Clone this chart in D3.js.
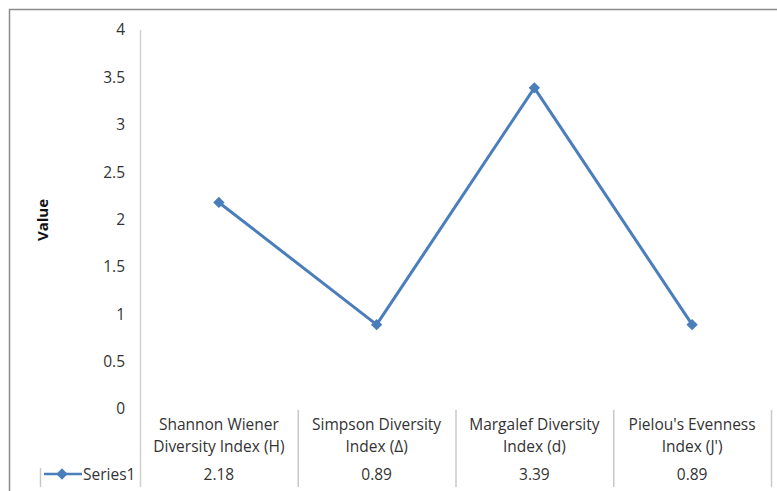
<!DOCTYPE html>
<html><head><meta charset="utf-8">
<script src="https://cdn.jsdelivr.net/npm/d3@7"></script>
<style>body{margin:0;background:#fff}svg{display:block}text{font-family:"Open Sans","Liberation Sans",sans-serif;fill:#333}</style>
</head><body>
<script>
const categories = [["Shannon Wiener","Diversity Index (H)"],["Simpson Diversity","Index (Δ)"],["Margalef Diversity","Index (d)"],["Pielou's Evenness","Index (J')"]];
const seriesName = "Series1";
const values = [2.18, 0.89, 3.39, 0.89];
const valueLabels = ["2.18","0.89","3.39","0.89"];
const yTicks = [0,0.5,1,1.5,2,2.5,3,3.5,4];

const W=777,H=491;
const svg=d3.select("body").append("svg").attr("width",W).attr("height",H);
// outer frame
svg.append("path").attr("d",`M9.5,${H}V9.5H${W}`).attr("fill","none").attr("stroke","#8c8c8c").attr("stroke-width",1.5);

const x=d3.scaleBand().domain(d3.range(categories.length)).range([140,771]);
const y=d3.scaleLinear().domain([0,4]).range([409,30]);
const fs=15.5;

// y axis line
svg.append("line").attr("x1",140.5).attr("x2",140.5).attr("y1",30).attr("y2",487).attr("stroke","#d0d0d0").attr("stroke-width",1.5);
// y tick labels
svg.append("g").selectAll("text").data(yTicks).join("text")
 .attr("x",125).attr("y",d=>y(d)).attr("dy","0.35em").attr("text-anchor","end")
 .attr("font-size",fs).text(d=>d);
// y title
svg.append("text").attr("transform","translate(48,220) rotate(-90)").attr("text-anchor","middle")
 .attr("font-size",15).attr("font-weight","bold").style("fill","#111").text("Value");

// table separators
svg.append("g").selectAll("line").data(d3.range(1,categories.length+1)).join("line")
 .attr("x1",d=>x(d-1)+x.bandwidth()+0.5).attr("x2",d=>x(d-1)+x.bandwidth()+0.5)
 .attr("y1",410).attr("y2",487).attr("stroke","#c8c8c8").attr("stroke-width",1.5);
svg.append("line").attr("x1",40.5).attr("x2",40.5).attr("y1",468).attr("y2",487).attr("stroke","#c8c8c8").attr("stroke-width",1.5);

// category labels
const cat=svg.append("g").selectAll("text").data(categories).join("text")
 .attr("text-anchor","middle").attr("font-size",fs);
cat.append("tspan").attr("x",(d,i)=>x(i)+x.bandwidth()/2).attr("y",430).text(d=>d[0]);
cat.append("tspan").attr("x",(d,i)=>x(i)+x.bandwidth()/2).attr("y",452).text(d=>d[1]);
// value row
svg.append("g").selectAll("text").data(valueLabels).join("text")
 .attr("x",(d,i)=>x(i)+x.bandwidth()/2).attr("y",480).attr("text-anchor","middle").attr("font-size",fs).text(d=>d);

const blue="#4a7ebb";
// legend key
const diamond=d3.symbol().type(d3.symbolSquare).size(64);
svg.append("line").attr("x1",44).attr("x2",82).attr("y1",474).attr("y2",474).attr("stroke",blue).attr("stroke-width",2.5);
svg.append("path").attr("d",diamond).attr("transform","translate(62,474) rotate(45)").attr("fill",blue);
svg.append("text").attr("x",83).attr("y",480).attr("font-size",fs).text(seriesName);

// line
const line=d3.line().x((d,i)=>x(i)+x.bandwidth()/2).y(d=>y(d));
svg.append("path").datum(values).attr("d",line).attr("fill","none").attr("stroke",blue).attr("stroke-width",3).attr("stroke-linejoin","round");
svg.append("g").selectAll("path").data(values).join("path").attr("d",diamond)
 .attr("transform",(d,i)=>`translate(${x(i)+x.bandwidth()/2},${y(d)}) rotate(45)`).attr("fill",blue);
</script>
</body></html>
